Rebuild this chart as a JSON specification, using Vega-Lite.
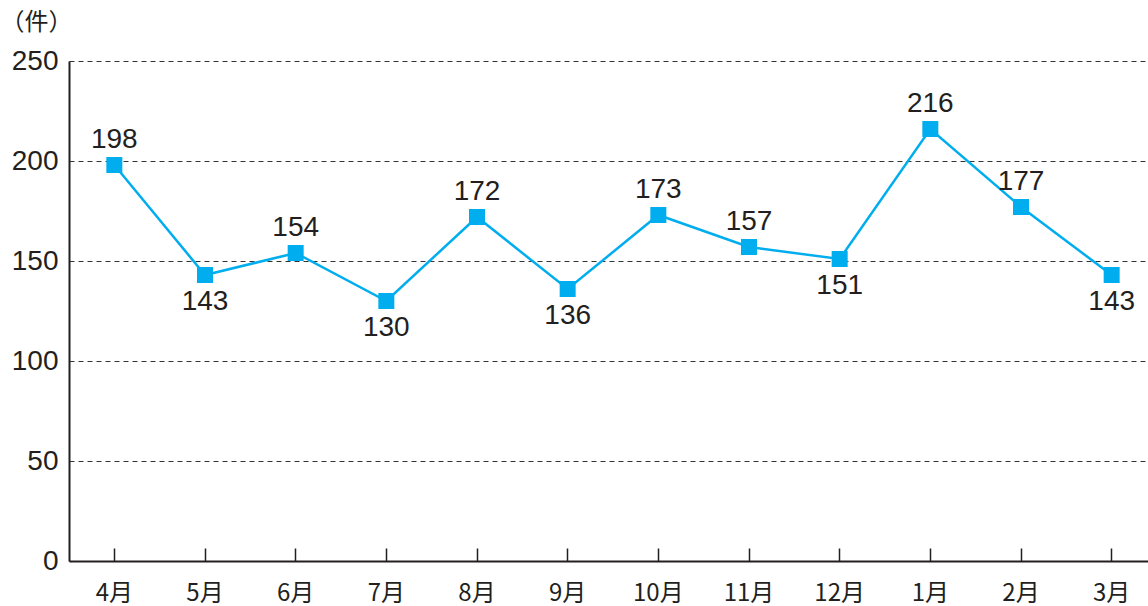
{
  "$schema": "https://vega.github.io/schema/vega-lite/v6.json",
  "autosize": "none",
  "width": 1079,
  "height": 500,
  "padding": {"left": 69, "top": 61, "right": 0, "bottom": 45},
  "background": "white",
  "config": {
    "view": {"stroke": null},
    "font": "Liberation Sans",
    "axis": {"labelFont": "Liberation Sans", "titleFont": "Noto Sans CJK JP"}
  },
  "data": {"values": [
    {"month": "4月", "count": 198},
    {"month": "5月", "count": 143},
    {"month": "6月", "count": 154},
    {"month": "7月", "count": 130},
    {"month": "8月", "count": 172},
    {"month": "9月", "count": 136},
    {"month": "10月", "count": 173},
    {"month": "11月", "count": 157},
    {"month": "12月", "count": 151},
    {"month": "1月", "count": 216},
    {"month": "2月", "count": 177},
    {"month": "3月", "count": 143}
  ]},
  "encoding": {
    "x": {
      "field": "month", "type": "ordinal", "sort": null,
      "scale": {"type": "band", "range": [0, 1088], "paddingInner": 0, "paddingOuter": 0},
      "axis": {
        "title": null, "labelAngle": 0, "labelFontSize": 24, "labelColor": "#231f20",
        "labelFont": "Noto Sans CJK JP", "bandPosition": 0.5,
        "domainColor": "#231f20", "domainWidth": 2, "tickColor": "#231f20", "tickWidth": 1.5,
        "tickSize": -13, "labelPadding": 33, "grid": false
      }
    },
    "y": {
      "field": "count", "type": "quantitative",
      "scale": {"domain": [0, 250], "nice": false},
      "axis": {
        "values": [0, 50, 100, 150, 200, 250],
        "title": "（件）", "titleAngle": 0, "titleX": -69, "titleY": -39, "titleAlign": "left",
        "titleBaseline": "middle", "titleFontSize": 24, "titleFontWeight": "normal", "titleColor": "#231f20",
        "labelFontSize": 28, "labelColor": "#231f20", "labelPadding": 11,
        "ticks": false, "domainColor": "#231f20", "domainWidth": 2,
        "grid": true, "gridDash": [5, 4], "gridColor": "#333333", "gridWidth": 1
      }
    }
  },
  "layer": [
    {"mark": {"type": "line", "color": "#00aeef", "strokeWidth": 2.5}},
    {"mark": {"type": "point", "shape": "square", "filled": true, "color": "#00aeef", "size": 256, "opacity": 1}},
    {
      "transform": [{"filter": {"field": "month", "oneOf": ["4月", "6月", "8月", "10月", "11月", "1月", "2月"]}}],
      "mark": {"type": "text", "fontSize": 28, "color": "#231f20", "baseline": "alphabetic", "dy": -17},
      "encoding": {"text": {"field": "count", "type": "quantitative"}}
    },
    {
      "transform": [{"filter": {"field": "month", "oneOf": ["5月", "7月", "9月", "12月", "3月"]}}],
      "mark": {"type": "text", "fontSize": 28, "color": "#231f20", "baseline": "top", "dy": 13},
      "encoding": {"text": {"field": "count", "type": "quantitative"}}
    }
  ]
}
